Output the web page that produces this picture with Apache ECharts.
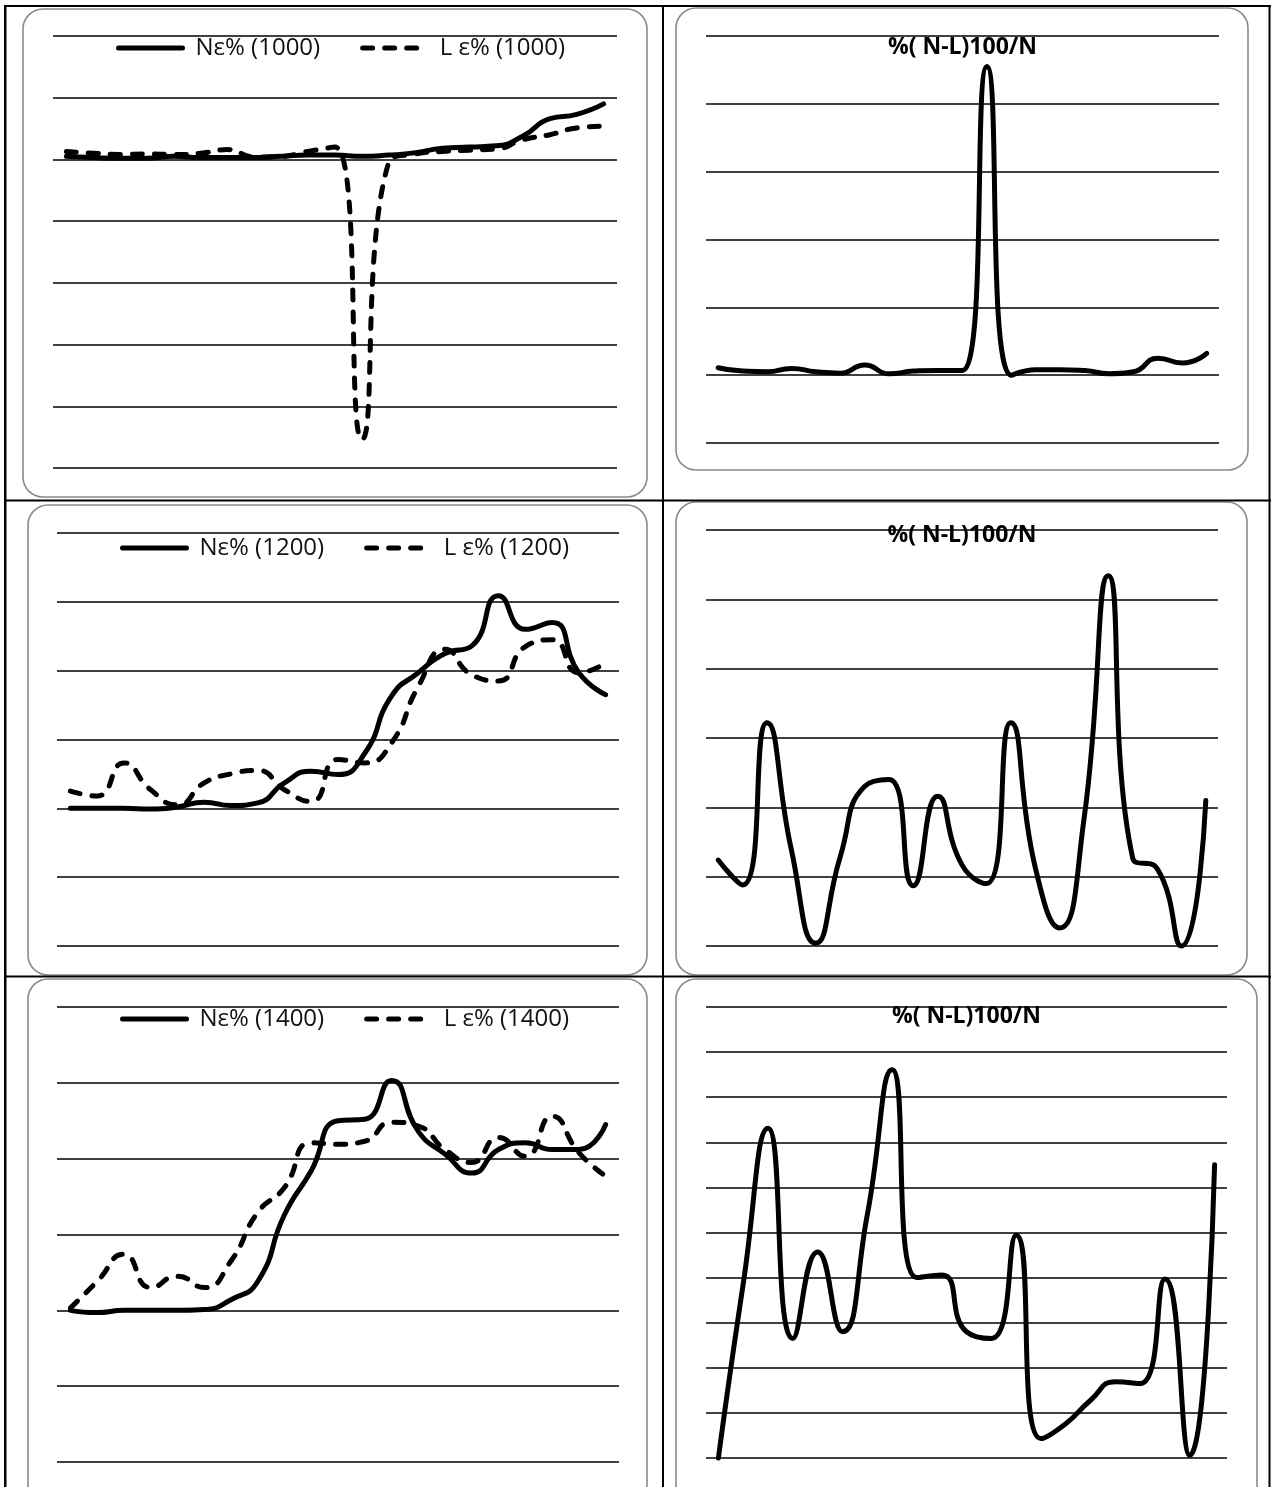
<!DOCTYPE html>
<html>
<head>
<meta charset="utf-8">
<script src="https://cdn.jsdelivr.net/npm/echarts@6/dist/echarts.min.js"></script>
<style>
html,body{margin:0;padding:0;background:#fff;}
#c{width:1273px;height:1487px;}
</style>
</head>
<body>
<div id="c"></div>
<script>
// ---- data ----
const categories = ['1','2','3','4','5','6','7','8','9','10','11','12','13','14','15','16','17','18','19','20','21'];

const n1000 = [0.05,0.03,0.02,0.02,0.05,0.03,0.03,0.03,0.05,0.07,0.07,0.05,0.07,0.11,0.18,0.20,0.22,0.38,0.66,0.73,0.90];
const l1000 = [0.13,0.10,0.08,0.09,0.08,0.10,0.16,0.04,0.05,0.13,0.20,-4.54,-0.05,0.09,0.13,0.15,0.17,0.32,0.40,0.51,0.54];
const d1000 = [0.11,0.06,0.05,0.10,0.05,0.03,0.15,0.02,0.06,0.07,0.07,4.55,0.00,0.08,0.08,0.07,0.02,0.05,0.25,0.18,0.32];

const n1200 = [0,0,0,-0.01,0.02,0.09,0.04,0.08,0.37,0.54,0.49,0.80,1.63,1.97,2.25,2.36,3.09,2.60,2.70,1.97,1.65];
const l1200 = [0.25,0.18,0.66,0.27,0.05,0.37,0.50,0.55,0.27,0.10,0.71,0.66,0.95,1.77,2.31,1.94,1.85,2.35,2.45,1.97,2.11];
const d1200 = [1.24,0.88,3.22,1.39,0.04,1.28,2.30,2.40,0.87,2.16,1.17,0.90,3.22,1.14,0.26,1.82,5.34,1.27,1.12,0.00,2.10];

const n1400 = [0,-0.03,0,0,0,0.01,0.14,0.38,1.26,1.84,2.50,2.52,3.03,2.36,2.06,1.81,2.12,2.21,2.12,2.12,2.45];
const l1400 = [0.03,0.38,0.74,0.30,0.45,0.30,0.65,1.29,1.62,2.21,2.19,2.23,2.48,2.43,2.12,1.95,2.28,2.03,2.56,2.08,1.77];
const d1400 = [0,3.86,7.31,2.65,4.57,2.80,5.39,8.61,4.00,4.06,2.80,2.65,4.94,0.43,0.76,1.28,1.69,1.65,3.97,0.06,6.50];

const legendNames = [
  ['Nε% (1000)', 'L ε% (1000)'],
  ['Nε% (1200)', 'L ε% (1200)'],
  ['Nε% (1400)', 'L ε% (1400)']
];
const diffTitle = '%( N-L)100/N';

// y-axis ranges (gridline positions)
const yRanges = [
  {min:-5, max:2, interval:1},
  {min:-1, max:5, interval:1},
  {min:-2, max:4, interval:1},
  {min:0,  max:6, interval:1},
  {min:-2, max:4, interval:1},
  {min:0,  max:10, interval:1}
];

// ---- layout ----
const grids = [
  {left:53,  top:36,   width:564, height:432},
  {left:706, top:36,   width:513, height:407},
  {left:57,  top:533,  width:562, height:413},
  {left:706, top:530,  width:512, height:416},
  {left:57,  top:1007, width:562, height:455},
  {left:706, top:1007, width:521, height:451}
];

const FONT = 'Open Sans';
const chart = echarts.init(document.getElementById('c'), null, {renderer:'canvas'});

const xAxes = grids.map((g,i)=>({
  type:'category', gridIndex:i, data:categories, boundaryGap:true,
  axisLine:{show:false}, axisTick:{show:false}, axisLabel:{show:false}, splitLine:{show:false}
}));
const yAxes = grids.map((g,i)=>({
  type:'value', gridIndex:i, min:yRanges[i].min, max:yRanges[i].max, interval:yRanges[i].interval,
  axisLine:{show:false}, axisTick:{show:false}, axisLabel:{show:false},
  splitLine:{show:true, lineStyle:{color:'#000', width:1.6}}
}));

const solid = {color:'#000', width:5, type:'solid', cap:'round', join:'round'};
const dashed = {color:'#000', width:5, type:[10,12], cap:'round', join:'round'};

function lineSeries(name, data, idx, style){
  return {
    name:name, type:'line', xAxisIndex:idx, yAxisIndex:idx, data:data,
    smooth:0.55, symbol:'none', clip:false, lineStyle:style, itemStyle:{color:'#000'},
    emphasis:{disabled:true}, z:5
  };
}

const series = [
  lineSeries(legendNames[0][0], n1000, 0, solid),
  lineSeries(legendNames[0][1], l1000, 0, dashed),
  lineSeries(diffTitle+' 1', d1000, 1, solid),
  lineSeries(legendNames[1][0], n1200, 2, solid),
  lineSeries(legendNames[1][1], l1200, 2, dashed),
  lineSeries(diffTitle+' 2', d1200, 3, solid),
  lineSeries(legendNames[2][0], n1400, 4, solid),
  lineSeries(legendNames[2][1], l1400, 4, dashed),
  lineSeries(diffTitle+' 3', d1400, 5, solid)
];

const legendTops = [36, 536, 1007];
const legendLefts = [116, 120, 120];
const legends = legendNames.map((names,i)=>({
  data:names, left:legendLefts[i], top:legendTops[i], orient:'horizontal',
  itemWidth:64, itemHeight:24, itemGap:40, padding:0, selectedMode:false,
  itemStyle:{opacity:0, borderWidth:0},
  lineStyle:{width:5, cap:'round', color:'#000'},
  textStyle:{fontFamily:FONT, fontSize:24, color:'#111', padding:[0,0,0,8]}
}));

const titleCenters = [962.5, 962, 966.5];
const titleTops = [36, 524, 1005];
const titles = titleCenters.map((cx,i)=>({
  text:diffTitle, left:cx, top:titleTops[i], textAlign:'center', padding:0,
  textStyle:{fontFamily:FONT, fontSize:23, fontWeight:'bold', color:'#000'}
}));

// table rules and rounded frames
const rule = (x,y,w,h)=>({type:'rect', shape:{x:x,y:y,width:w,height:h}, style:{fill:'#000'}, silent:true, z:10});
const frame = (x,y,w,h)=>({type:'rect', shape:{x:x,y:y,width:w,height:h,r:20}, style:{fill:'none', stroke:'#8a8a8a', lineWidth:1.6}, silent:true, z:1});

const graphics = [
  rule(4,5,1267,2), rule(4,5,2.5,1482), rule(1268.5,5,2,1482), rule(662,5,2,1482),
  rule(4,499.5,1267,2), rule(4,975.5,1267,2),
  frame(23,9,624,488), frame(676,8,572,462),
  frame(28,505,619,470), frame(676,502,571,473),
  frame(28,979,619,530), frame(676,979,581,530)
];

chart.setOption({
  animation:false,
  backgroundColor:'#fff',
  title:titles,
  legend:legends,
  grid:grids.map(g=>Object.assign({containLabel:false}, g)),
  xAxis:xAxes,
  yAxis:yAxes,
  series:series,
  graphic:{elements:graphics}
});
</script>
</body>
</html>
